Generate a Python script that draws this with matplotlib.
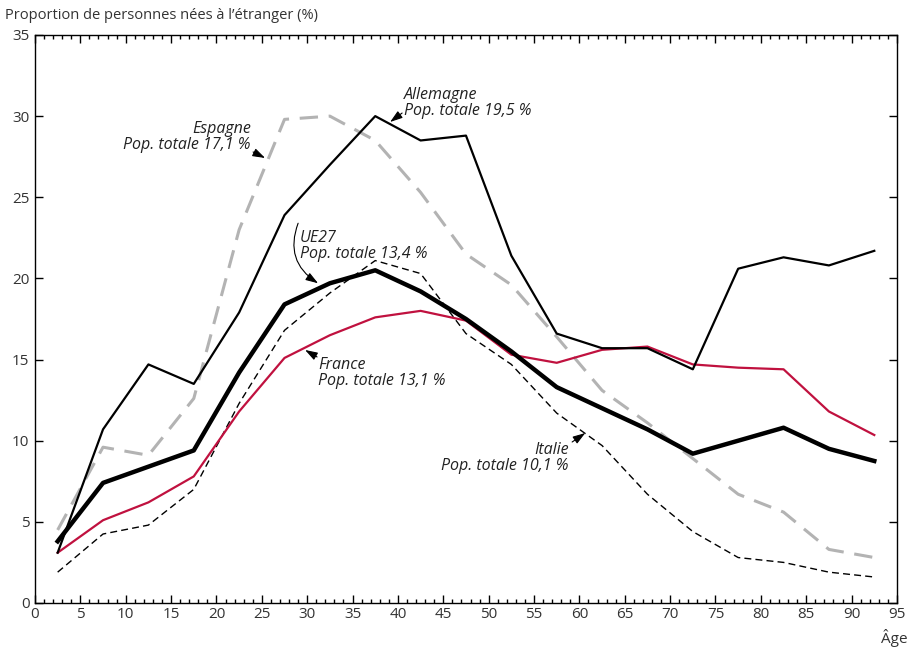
import matplotlib
matplotlib.use("Agg")
import matplotlib.pyplot as plt
from matplotlib.ticker import MultipleLocator

plt.rcParams['font.family'] = ['Open Sans', 'DejaVu Sans']

ages = [2.5, 7.5, 12.5, 17.5, 22.5, 27.5, 32.5, 37.5, 42.5, 47.5, 52.5, 57.5,
        62.5, 67.5, 72.5, 77.5, 82.5, 87.5, 92.5]
ue27 = [3.8, 7.4, 8.4, 9.4, 14.2, 18.4, 19.7, 20.5, 19.2, 17.5, 15.5, 13.3,
        12.0, 10.7, 9.2, 10.0, 10.8, 9.5, 8.75]
allemagne = [3.1, 10.7, 14.7, 13.5, 17.9, 23.9, 27.0, 30.0, 28.5, 28.8, 21.4, 16.6,
             15.7, 15.7, 14.4, 20.6, 21.3, 20.8, 21.7]
espagne = [4.5, 9.6, 9.1, 12.6, 23.0, 29.8, 30.0, 28.5, 25.3, 21.5, 19.6, 16.4,
           13.1, 11.1, 8.9, 6.7, 5.6, 3.3, 2.8]
france = [3.1, 5.1, 6.2, 7.8, 11.8, 15.1, 16.5, 17.6, 18.0, 17.4, 15.3, 14.8,
          15.6, 15.8, 14.7, 14.5, 14.4, 11.8, 10.35]
italie = [1.9, 4.25, 4.8, 7.0, 12.3, 16.8, 19.1, 21.1, 20.3, 16.6, 14.7, 11.7,
          9.7, 6.7, 4.4, 2.8, 2.5, 1.9, 1.6]

fig = plt.figure(figsize=(9.11, 6.49), dpi=100)
ax = fig.add_axes([0.0384, 0.0709, 0.9462, 0.8752])

ax.plot(ages, espagne, color='#b3b3b3', lw=2.2, dashes=(6, 3.5))
ax.plot(ages, italie, color='black', lw=1.0, dashes=(5, 3))
ax.plot(ages, france, color='#c0113f', lw=1.6)
ax.plot(ages, allemagne, color='black', lw=1.6)
ax.plot(ages, ue27, color='black', lw=3.2)

ax.set_xlim(0, 95)
ax.set_ylim(0, 35)
ax.xaxis.set_major_locator(MultipleLocator(5))
ax.xaxis.set_minor_locator(MultipleLocator(1))
ax.yaxis.set_major_locator(MultipleLocator(5))
ax.tick_params(axis='x', which='major', direction='in', length=6, width=1,
               top=True, bottom=True, labelsize=11, labelcolor='#333333', pad=3)
ax.tick_params(axis='x', which='minor', direction='in', length=3, width=1,
               top=True, bottom=True)
ax.tick_params(axis='y', which='major', direction='in', length=6, width=1,
               left=True, right=True, labelsize=11, labelcolor='#333333', pad=4)
for s in ax.spines.values():
    s.set_linewidth(1.0)

fig.text(0.0055, 0.976, "Proportion de personnes nées à l’étranger (%)",
         fontsize=10.5, color='#333333', ha='left', va='center')
fig.text(0.996, 0.017, "Âge", fontsize=11, color='#333333', ha='right', va='center')

tkw = dict(fontsize=11.5, style='italic', color='#222222', linespacing=1.0)
astyle = '-|>,head_length=0.75,head_width=0.25'
akw = dict(arrowstyle=astyle, color='black', lw=0.8, shrinkA=0, shrinkB=0)

ax.text(40.7, 30.8, "Allemagne\nPop. totale 19,5 %", ha='left', va='center', **tkw)
ax.annotate("", xy=(39.14, 29.64), xytext=(40.46, 30.19), arrowprops=akw)

ax.text(23.8, 28.7, "Espagne\nPop. totale 17,1 %", ha='right', va='center', **tkw)
ax.annotate("", xy=(25.36, 27.42), xytext=(24.04, 27.79), arrowprops=akw)

ax.text(29.2, 22.0, "UE27\nPop. totale 13,4 %", ha='left', va='center', **tkw)
ax.annotate("", xy=(31.2, 19.7), xytext=(29.0, 23.4),
            arrowprops=dict(arrowstyle=astyle, color='black', lw=0.8, shrinkA=0,
                            shrinkB=0, connectionstyle='arc3,rad=0.4'))

ax.text(31.2, 14.2, "France\nPop. totale 13,1 %", ha='left', va='center', **tkw)
ax.annotate("", xy=(29.77, 15.59), xytext=(31.09, 15.16), arrowprops=akw)

ax.text(58.8, 8.95, "Italie\nPop. totale 10,1 %", ha='right', va='center', **tkw)
ax.annotate("", xy=(60.64, 10.47), xytext=(59.2, 9.92), arrowprops=akw)

fig.savefig("out.png", dpi=100)
